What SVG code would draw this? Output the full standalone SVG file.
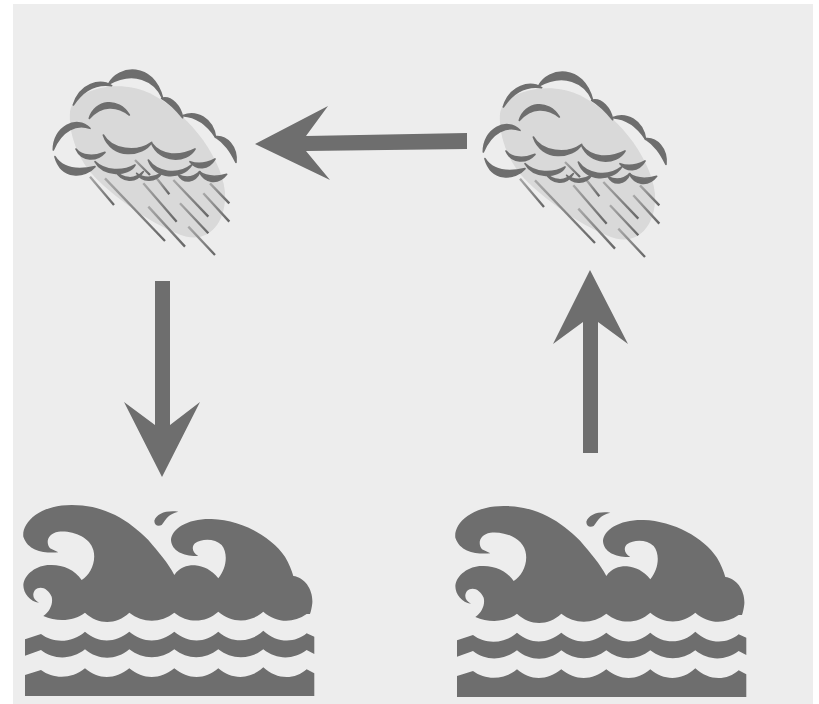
<svg xmlns="http://www.w3.org/2000/svg" width="819" height="704" viewBox="0 0 819 704">
<style>
.d{fill:#6e6e6e}
.c{fill:#6e6e6e;stroke:#6e6e6e;stroke-width:5;stroke-linejoin:round}
.e{fill:#d9d9d9}
.r{stroke:url(#rain);stroke-width:7;fill:none}
</style>
<defs>
<filter id="soft" x="-5%" y="-5%" width="110%" height="110%"><feGaussianBlur stdDeviation="0.7"/></filter>
<linearGradient id="rain" x1="0" y1="0" x2="1" y2="1"><stop offset="0" stop-color="#a8a8a8"/><stop offset="1" stop-color="#666"/></linearGradient>
<g id="cloud" transform="translate(40,55) scale(.3333)">
<path class="e" d="M90,170C100,100 240,70 330,115C430,165 540,290 555,410C560,500 510,560 440,545C350,520 210,420 150,350C110,300 85,230 90,170Z"/>
<g class="r">
<path d="M150,365L222,450"/><path d="M195,370L375,558"/><path d="M285,315L330,360"/><path d="M350,370L388,418"/><path d="M310,385L410,500"/><path d="M325,455L435,575"/><path d="M400,375L505,485"/><path d="M420,445L505,535"/><path d="M445,515L525,600"/><path d="M490,415L568,500"/><path d="M510,385L568,445"/>
</g>
<g class="c">
<path d="M205,88C235,30 340,20 368,130C345,75 280,45 205,88Z"/>
<path d="M100,150C120,85 180,70 215,92C170,85 130,105 100,150Z"/>
<path d="M148,190C165,135 235,125 268,180C230,150 185,150 148,190Z"/>
<path d="M365,130C395,122 422,155 428,188C405,160 390,145 365,130Z"/>
<path d="M428,182C470,165 518,190 527,247C500,205 470,185 428,182Z"/>
<path d="M525,245C560,240 592,275 588,322C570,285 555,265 525,245Z"/>
<path d="M40,285C40,215 110,180 150,220C110,205 65,225 40,285Z"/>
<path d="M190,240C215,285 290,295 335,262C310,305 215,315 190,240Z"/>
<path d="M108,282C125,305 165,305 195,292C170,320 125,320 108,282Z"/>
<path d="M45,305C70,345 120,345 165,335C135,370 65,375 45,305Z"/>
<path d="M165,320C195,350 250,350 285,330C265,365 190,365 165,320Z"/>
<path d="M335,265C365,305 420,305 465,282C440,325 360,325 335,265Z"/>
<path d="M325,315C350,350 410,365 455,330C425,375 345,375 325,315Z"/>
<path d="M450,320C475,330 500,325 525,312C505,345 470,345 450,320Z"/>
<path d="M415,360C440,372 460,368 480,350C465,385 430,385 415,360Z"/>
<path d="M478,350C505,370 535,365 560,358C535,390 495,385 478,350Z"/>
<path d="M225,345C250,375 285,375 310,350C290,385 245,385 225,345Z"/>
<path d="M290,355C310,372 340,370 365,355C345,385 305,380 290,355Z"/>
</g>
</g>
<g id="wave" transform="translate(15,490) scale(.3333)">
<path d="M130,187C90,190 40,185 25,140C20,100 70,45 170,45C270,45 340,90 400,150C430,185 460,220 478,255C495,230 520,225 540,226C565,228 590,240 610,265C635,235 640,190 620,165C600,145 560,145 540,160C530,170 530,185 550,198C510,200 470,185 468,150C470,115 520,85 590,87C680,90 770,140 810,200C822,220 830,240 835,258C870,262 895,300 892,340C890,355 888,365 885,372L875,372C835,400 785,400 745,365C705,400 650,400 610,365C570,400 518,400 478,368C438,400 383,400 343,368C303,405 250,405 210,368C175,395 125,395 85,378C105,365 115,340 110,320C100,295 75,285 60,300C50,315 55,330 72,338C45,335 25,310 25,285C28,250 70,222 110,225C145,225 180,240 200,270C225,255 245,215 235,180C225,140 170,120 130,125C100,130 90,155 105,175Z"/>
<path d="M418,92C425,70 455,60 490,65C460,72 455,85 440,105C428,110 418,105 418,92Z"/>
<path d="M30,448L78,432C115,460 170,460 210,425C250,460 300,460 343,425C385,460 435,460 478,425C520,460 570,460 610,425C650,460 705,460 745,422C785,460 840,460 875,430L898,440V492L875,480C835,510 785,510 745,478C705,510 650,510 610,478C570,510 518,510 478,478C438,510 383,510 343,478C303,512 250,512 210,478C170,510 115,510 78,480L30,497Z"/>
<path d="M30,555L78,540C115,568 170,568 210,535C250,570 300,570 343,535C385,570 435,570 478,535C520,570 570,570 610,535C650,570 705,570 745,532C785,570 840,570 875,538L898,550V618H30Z"/>
</g>
</defs>
<rect width="819" height="704" fill="#fff"/>
<rect x="13" y="4" width="800" height="700" fill="#ededed"/>
<g id="cloud-left" filter="url(#soft)"><use href="#cloud"/></g>
<g id="cloud-right" filter="url(#soft)"><use href="#cloud" x="430" y="2"/></g>
<g id="wave-left" class="d" filter="url(#soft)"><use href="#wave"/></g>
<g id="wave-right" class="d" filter="url(#soft)"><use href="#wave" x="432" y="1"/></g>
<g id="connectors" class="d" filter="url(#soft)">
<path d="M467,133V149L306,151L330,180L255,144L328,106L306,136Z"/>
<path d="M155,281H170V425L200,402L162,477L124,402L155,425Z"/>
<path d="M583,453H598V322L628,344L590,270L553,344L583,322Z"/>
</g>
</svg>
